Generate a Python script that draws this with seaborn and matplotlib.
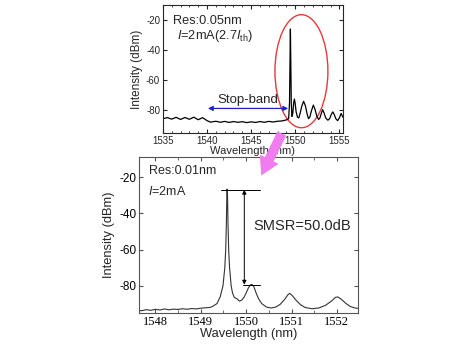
import numpy as np
import pandas as pd
import matplotlib
matplotlib.use('Agg')
import matplotlib.pyplot as plt
import seaborn as sns
from matplotlib.patches import Ellipse, FancyArrowPatch
from matplotlib.ticker import MultipleLocator

sns.set_style('ticks')
plt.rcParams['font.family'] = ['Liberation Sans', 'DejaVu Sans']
plt.rcParams['mathtext.fontset'] = 'custom'
plt.rcParams['mathtext.rm'] = 'Liberation Sans'
plt.rcParams['mathtext.it'] = 'Liberation Sans:italic'
plt.rcParams['xtick.direction'] = 'in'
plt.rcParams['ytick.direction'] = 'in'
plt.rcParams['axes.unicode_minus'] = False

# spectrum at 0.05 nm resolution (wide scan)
wl_lo = [1535.0, 1535.5, 1536.0, 1536.5, 1537.0, 1537.5, 1538.0, 1538.5, 1539.0, 1539.5,
         1540.0, 1540.4, 1541.0, 1541.5, 1542.0, 1542.5, 1543.0, 1543.5, 1544.0, 1544.5,
         1545.0, 1545.5, 1546.0, 1546.5, 1547.0, 1547.5, 1548.0, 1548.5, 1549.0, 1549.25,
         1549.35, 1549.40, 1549.45, 1549.50, 1549.55, 1549.62, 1549.72, 1549.82, 1549.9, 1549.98,
         1550.1, 1550.25, 1550.4, 1550.55, 1550.75, 1550.95, 1551.15, 1551.35, 1551.5, 1551.65,
         1551.85, 1552.05, 1552.25, 1552.45, 1552.65, 1552.8, 1552.95, 1553.1, 1553.25, 1553.45,
         1553.7, 1553.9, 1554.1, 1554.25, 1554.4, 1554.6, 1554.8, 1555.0, 1555.2, 1555.4]
p_lo = [-85.5, -84.8, -85.8, -84.6, -86.0, -84.7, -85.9, -84.5, -86.2, -84.8,
        -86.8, -87.8, -87.2, -87.9, -87.3, -88.0, -87.4, -87.9, -87.5, -88.1,
        -87.6, -88.0, -87.4, -87.9, -87.3, -87.7, -87.2, -87.0, -86.3, -85.5,
        -75.0, -50.0, -26.0, -50.0, -75.0, -84.0, -82.0, -75.0, -72.5, -75.0,
        -81.0, -84.5, -85.0, -82.0, -77.0, -74.0, -77.0, -82.5, -85.5, -84.5,
        -80.0, -76.5, -79.5, -84.0, -86.0, -85.0, -82.0, -79.5, -81.5, -85.0,
        -86.5, -85.5, -82.5, -81.0, -82.5, -85.5, -86.8, -85.0, -82.0, -84.5]

# spectrum at 0.01 nm resolution (zoomed scan)
wl_hi = [1547.6, 1547.7, 1547.8, 1547.9, 1548.0, 1548.1, 1548.2, 1548.3, 1548.4, 1548.5,
         1548.6, 1548.7, 1548.8, 1548.9, 1549.0, 1549.1, 1549.2, 1549.25, 1549.36, 1549.43,
         1549.49, 1549.53, 1549.55, 1549.565, 1549.575, 1549.58, 1549.59, 1549.6, 1549.615, 1549.635,
         1549.67, 1549.7, 1549.74, 1549.8, 1549.85, 1549.9, 1549.95, 1550.0, 1550.05, 1550.1,
         1550.13, 1550.17, 1550.22, 1550.28, 1550.35, 1550.45, 1550.55, 1550.65, 1550.75, 1550.85,
         1550.92, 1550.96, 1551.02, 1551.1, 1551.2, 1551.3, 1551.45, 1551.6, 1551.75, 1551.88,
         1551.97, 1552.02, 1552.1, 1552.2, 1552.3, 1552.4, 1552.5]
p_hi = [-93.5, -93.8, -93.2, -93.6, -93.0, -93.4, -92.8, -93.3, -92.9, -93.1,
        -92.7, -93.0, -92.6, -92.8, -92.4, -92.2, -92.0, -91.6, -89.8, -86.0,
        -80.0, -70.0, -60.0, -45.0, -30.0, -26.6, -30.0, -45.0, -60.0, -70.0,
        -80.0, -84.0, -86.5, -87.2, -88.5, -88.0, -86.5, -84.0, -81.2, -79.4,
        -79.3, -80.5, -84.0, -87.5, -90.0, -91.8, -92.3, -91.8, -90.3, -87.5,
        -85.0, -84.2, -85.5, -88.0, -90.5, -92.0, -92.7, -92.3, -90.8, -88.5,
        -86.4, -86.2, -87.5, -89.8, -91.5, -92.3, -92.6]

df_lo = pd.DataFrame({'wl': wl_lo, 'p': p_lo})
df_hi = pd.DataFrame({'wl': wl_hi, 'p': p_hi})

fig = plt.figure(figsize=(4.5, 3.5), dpi=100)
ax1 = fig.add_axes([0.362, 0.62, 0.40, 0.366])
ax2 = fig.add_axes([0.309, 0.106, 0.487, 0.445])

# top panel
sns.lineplot(data=df_lo, x='wl', y='p', ax=ax1, color='black', linewidth=0.9,
             estimator=None, sort=False)
ax1.set_xlim(1535, 1555.4)
ax1.set_ylim(-95, -10)
ax1.xaxis.set_major_locator(MultipleLocator(5))
ax1.xaxis.set_minor_locator(MultipleLocator(1))
ax1.yaxis.set_major_locator(MultipleLocator(20))
ax1.tick_params(which='both', top=True, right=True, labelsize=7, pad=2)
ax1.tick_params(which='major', length=3)
ax1.tick_params(which='minor', length=1.5)
ax1.set_xlabel('Wavelength (nm)', fontsize=8, labelpad=0)
ax1.set_ylabel('Intensity (dBm)', fontsize=8.5, labelpad=2)
for s in ax1.spines.values():
    s.set_linewidth(0.8)
ax1.text(1536.1, -20.7, 'Res:0.05nm', fontsize=9.2, ha='left', va='center')
ax1.text(1536.6, -30.7, r'$I$=2mA(2.7$I_{\rm th}$)', fontsize=9.2, ha='left', va='center')
ax1.add_patch(Ellipse((1550.7, -54), 6.0, 75, fill=False, edgecolor='#e8393a', linewidth=1.0))
ax1.annotate('', xy=(1540.1, -78.7), xytext=(1549.2, -78.7),
             arrowprops=dict(arrowstyle='<|-|>', color='#2020d0', lw=0.9,
                             mutation_scale=7, shrinkA=0, shrinkB=0))
ax1.text(1544.6, -73.2, 'Stop-band', fontsize=9.5, ha='center', va='center')

# bottom panel
sns.lineplot(data=df_hi, x='wl', y='p', ax=ax2, color='#333333', linewidth=0.8,
             estimator=None, sort=False)
ax2.set_xlim(1547.64, 1552.47)
ax2.set_ylim(-95, -9)
ax2.xaxis.set_major_locator(MultipleLocator(1))
ax2.xaxis.set_minor_locator(MultipleLocator(0.5))
ax2.yaxis.set_major_locator(MultipleLocator(20))
ax2.tick_params(which='both', top=True, right=True, pad=2, colors='#555555', labelcolor='black')
ax2.tick_params(which='major', length=3)
ax2.tick_params(which='minor', length=2)
ax2.tick_params(axis='y', labelsize=8.5)
ax2.tick_params(axis='x', labelsize=9)
for lab in ax2.get_xticklabels():
    lab.set_family('Liberation Serif')
ax2.set_xlabel('Wavelength (nm)', fontsize=9.3, labelpad=0)
ax2.set_ylabel('Intensity (dBm)', fontsize=9.3, labelpad=3)
for s in ax2.spines.values():
    s.set_linewidth(0.8)
    s.set_color('#555555')
ax2.text(1547.85, -16.7, 'Res:0.01nm', fontsize=9, ha='left', va='center')
ax2.text(1547.83, -27.7, r'$I$=2mA', fontsize=9, ha='left', va='center')
ax2.plot([1549.45, 1550.31], [-27, -27], color='black', lw=0.7)
ax2.plot([1549.93, 1550.31], [-79.4, -79.4], color='black', lw=0.7)
ax2.annotate('', xy=(1549.96, -79.4), xytext=(1549.96, -27),
             arrowprops=dict(arrowstyle='<|-|>', color='black', lw=0.7,
                             mutation_scale=6, shrinkA=0, shrinkB=0))
ax2.text(1550.15, -47, 'SMSR=50.0dB', fontsize=10.5, ha='left', va='center')

# pink arrow linking the panels
arr = FancyArrowPatch((283 / 450, 1 - 131 / 350), (260 / 450, 1 - 178 / 350),
                      transform=fig.transFigure, color='#f07cf0', lw=0,
                      arrowstyle='simple,head_length=1.3,head_width=1.5,tail_width=0.7',
                      mutation_scale=10, zorder=10)
fig.add_artist(arr)

fig.savefig('out.png', dpi=100)
